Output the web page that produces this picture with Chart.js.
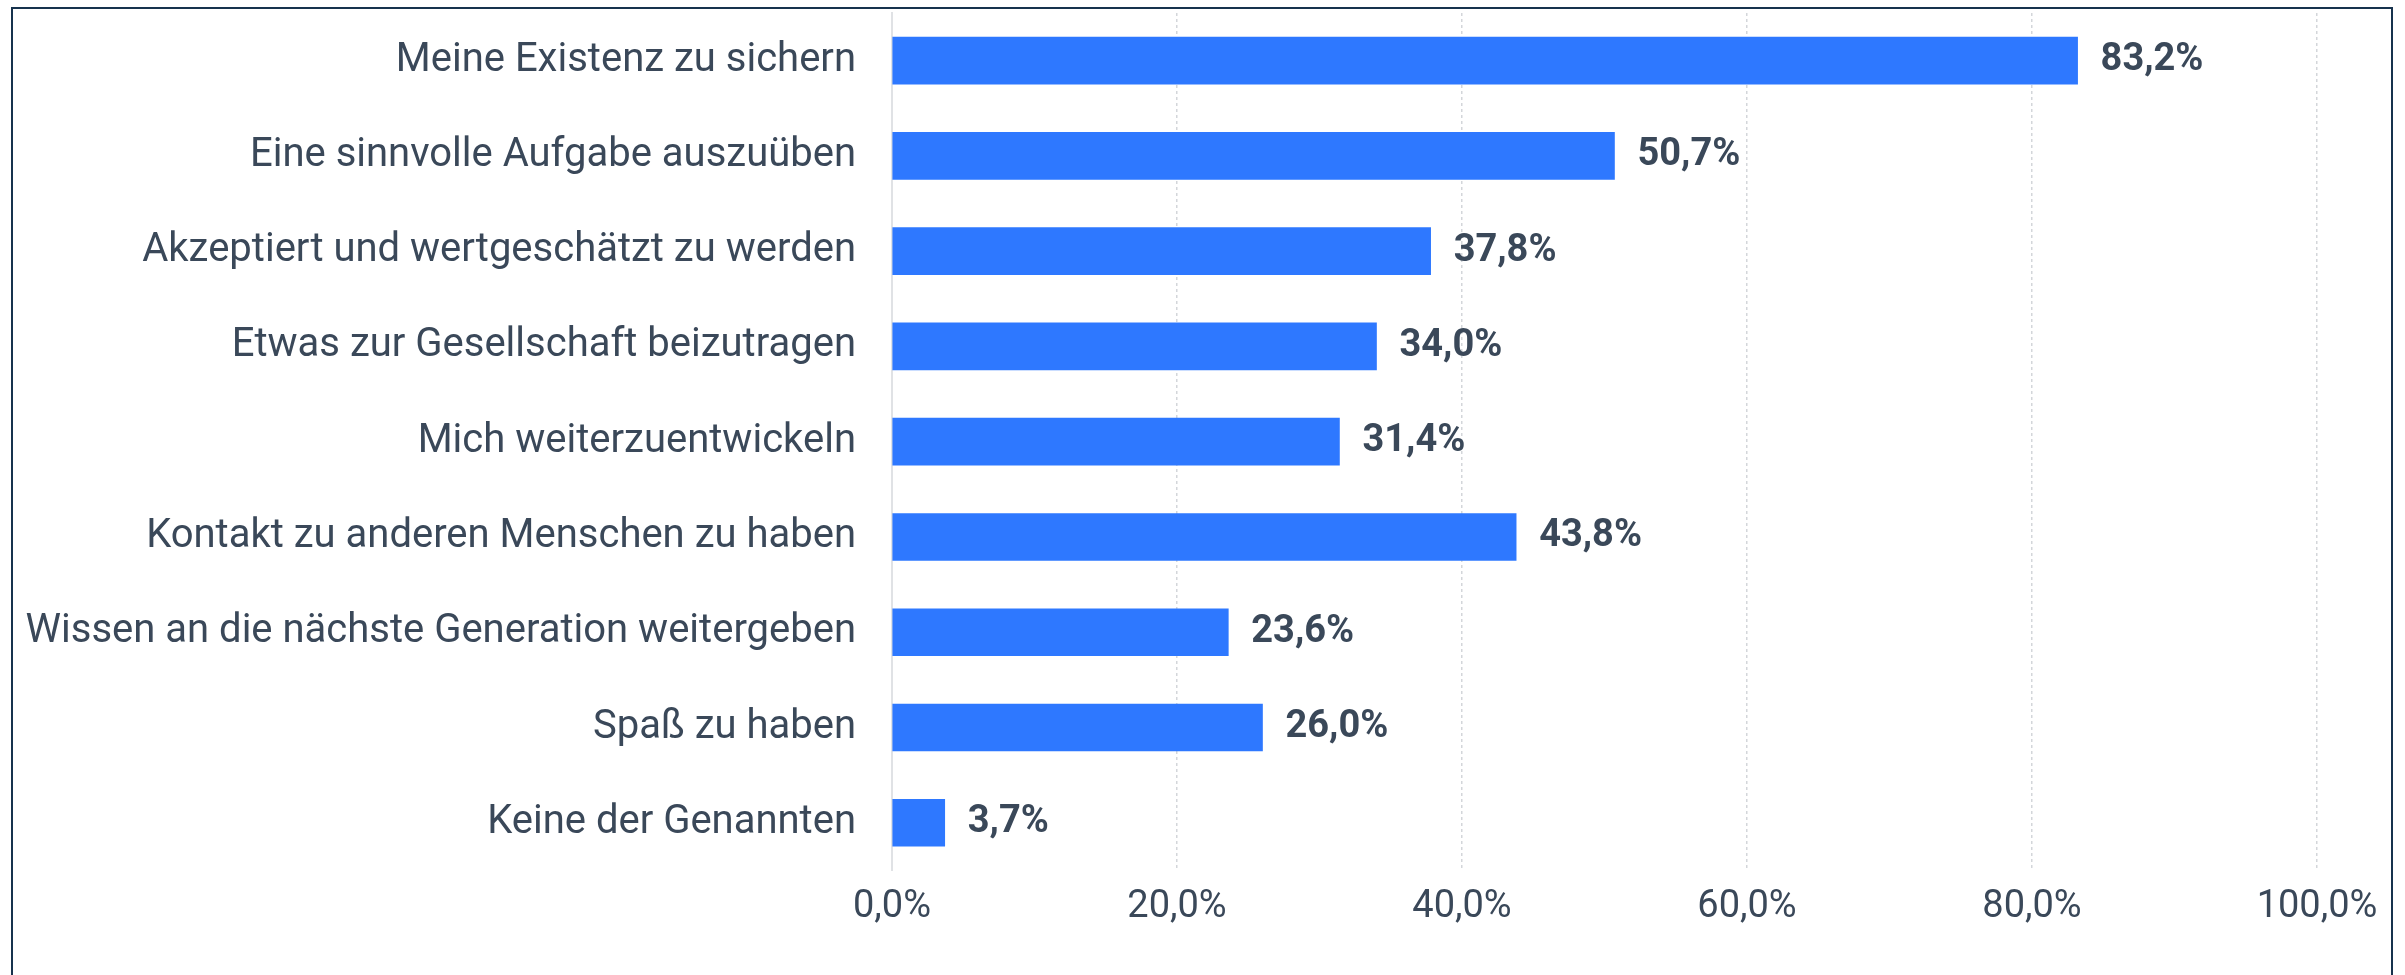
<!DOCTYPE html>
<html>
<head>
<meta charset="utf-8">
<script src="https://cdn.jsdelivr.net/npm/chart.js@4/dist/chart.umd.min.js"></script>
<style>
  html, body { margin: 0; padding: 0; background: #fff; overflow: hidden; }
  #wrap { position: fixed; left: 0; top: 0; width: 2405px; height: 975px; }
  #frame {
    position: absolute; left: 11px; top: 7px; width: 2378px; height: 1000px;
    border: 2.5px solid #17324d; pointer-events: none;
  }
</style>
</head>
<body>
<div id="wrap">
  <canvas id="myChart" width="2405" height="975"></canvas>
  <div id="frame"></div>
</div>
<script>
// categories and values (in percent)
const categories = [
    'Meine Existenz zu sichern',
    'Eine sinnvolle Aufgabe auszuüben',
    'Akzeptiert und wertgeschätzt zu werden',
    'Etwas zur Gesellschaft beizutragen',
    'Mich weiterzuentwickeln',
    'Kontakt zu anderen Menschen zu haben',
    'Wissen an die nächste Generation weitergeben',
    'Spaß zu haben',
    'Keine der Genannten'
];
const values = [83.2, 50.7, 37.8, 34.0, 31.4, 43.8, 23.6, 26.0, 3.7];
const tickValues = [0, 20, 40, 60, 80, 100];

const textColor = '#3a4859';
const barColor = '#2e78ff';

function fmt(v) {
    return v.toFixed(1).replace('.', ',') + '%';
}

// draws the value next to each bar
const valueLabels = {
    id: 'valueLabels',
    afterDatasetsDraw(chart) {
        const ctx = chart.ctx;
        const meta = chart.getDatasetMeta(0);
        ctx.save();
        ctx.font = 'bold 38px Roboto';
        ctx.fillStyle = textColor;
        ctx.textAlign = 'left';
        ctx.textBaseline = 'middle';
        meta.data.forEach((bar, i) => {
            ctx.fillText(fmt(values[i]), bar.x + 23, bar.y);
        });
        ctx.restore();
    }
};

Chart.defaults.font.family = 'Roboto';
Chart.defaults.color = textColor;

const canvas = document.getElementById('myChart');
const ctx = canvas.getContext('2d');

const chart = new Chart(ctx, {
    type: 'bar',
    data: {
        labels: categories,
        datasets: [{
            data: values,
            backgroundColor: barColor,
            borderWidth: 0,
            barThickness: 47
        }]
    },
    options: {
        indexAxis: 'y',
        responsive: false,
        animation: false,
        layout: {
            padding: { top: 13, right: 88, bottom: 31, left: 0 }
        },
        plugins: {
            legend: { display: false },
            tooltip: { enabled: false }
        },
        scales: {
            x: {
                min: 0,
                max: 100,
                afterBuildTicks(axis) {
                    axis.ticks = tickValues.map(v => ({ value: v }));
                },
                afterFit(axis) {
                    axis.paddingLeft = 0;
                    axis.paddingRight = 0;
                },
                ticks: {
                    padding: 14,
                    font: { size: 38 },
                    color: textColor,
                    callback: v => fmt(v)
                },
                grid: {
                    drawTicks: false,
                    color: ctx => ctx.tick && ctx.tick.value === 0 ? 'rgba(0,0,0,0)' : '#d3d6da',
                    lineWidth: 1.5
                },
                border: { display: false, dash: [3, 3] }
            },
            y: {
                afterFit(axis) {
                    axis.width = 892;
                    axis.paddingTop = 0;
                    axis.paddingBottom = 0;
                },
                ticks: {
                    padding: 36,
                    font: { size: 40 },
                    color: textColor
                },
                grid: { display: false, drawTicks: false },
                border: { display: true, color: '#e0e2e5', width: 2 }
            }
        }
    },
    plugins: [valueLabels]
});
</script>
</body>
</html>
